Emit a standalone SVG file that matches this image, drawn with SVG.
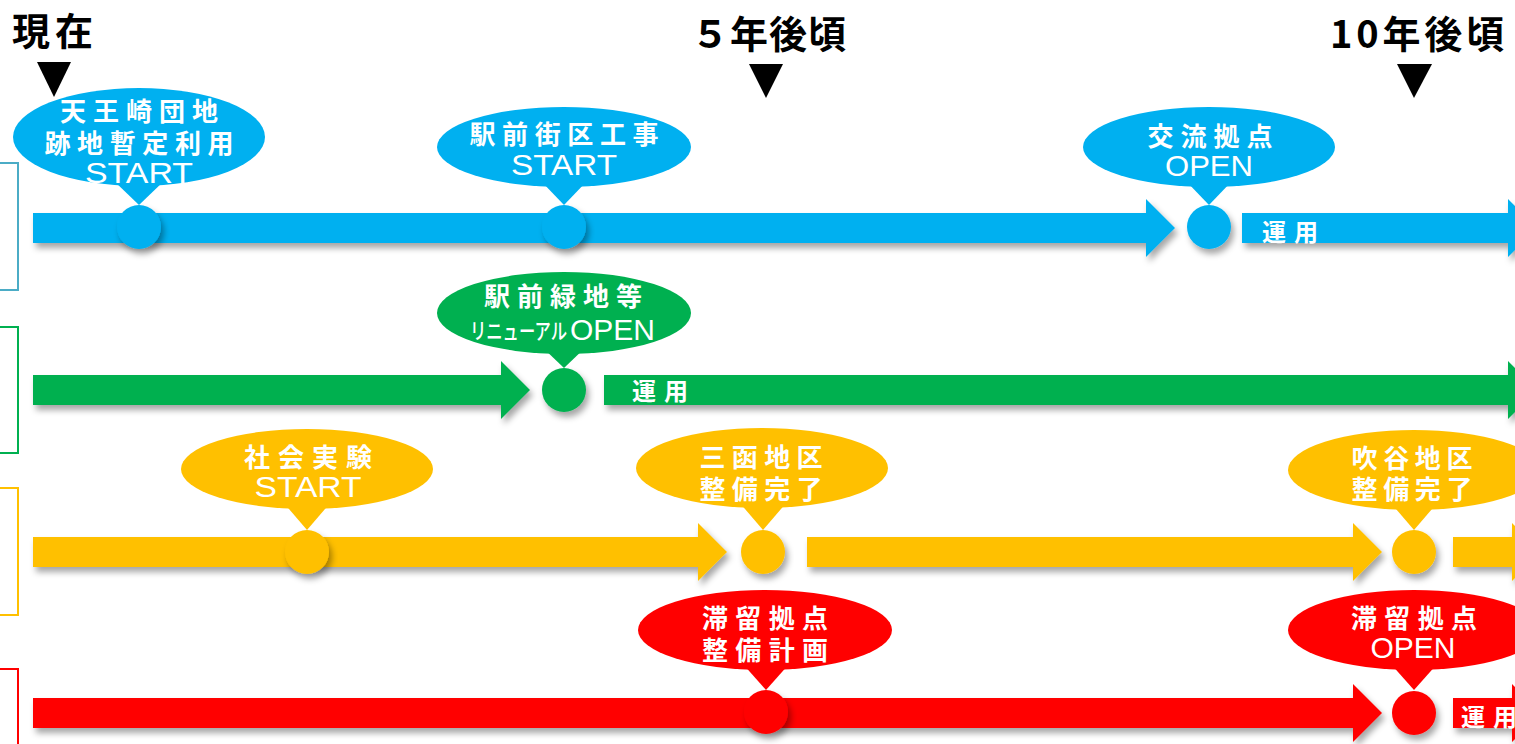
<svg xmlns="http://www.w3.org/2000/svg" width="1515" height="744" viewBox="0 0 1515 744">
<style>
.t{font-family:"Noto Sans CJK JP","Noto Sans",sans-serif;font-weight:700;fill:#000;font-size:38px}
.c{font-family:"Noto Sans CJK JP","Noto Sans",sans-serif;font-weight:700;fill:#fff;font-size:26px;text-anchor:middle}
.k{font-family:"Noto Sans CJK JP","Noto Sans",sans-serif;font-weight:500;fill:#fff;font-size:22px}
.l{font-family:"Liberation Sans",Arial,sans-serif;fill:#fff;font-size:29px;text-anchor:middle}
.lo{font-family:"Liberation Sans",Arial,sans-serif;fill:#fff;font-size:29px}
.u{font-family:"Noto Sans CJK JP","Noto Sans",sans-serif;font-weight:700;fill:#fff;font-size:24px}
.b{fill:#00B0F0}.g{fill:#00B050}.y{fill:#FFC000}.r{fill:#FF0000}
.br{fill:none;stroke-width:2}
</style>
<defs>
<filter id="sh" x="-20%" y="-50%" width="140%" height="220%">
<feDropShadow dx="3" dy="5" stdDeviation="3" flood-color="#000" flood-opacity="0.35"/>
</filter>
</defs>
<rect width="1515" height="744" fill="#fff"/>
<g id="time-labels">
<text class="t" x="12" y="45" textLength="81">現在</text>
<polygon points="37,62 71,62 54,97" fill="#000"/>
<text class="t" x="691" y="48" textLength="155">５年後頃</text>
<polygon points="749,64 783,64 766,98" fill="#000"/>
<text class="t" x="1330" y="48" textLength="174">10年後頃</text>
<polygon points="1397,64 1432,64 1414,98" fill="#000"/>
</g>
<g id="brackets">
<rect class="br" x="-10" y="163" width="28" height="127" stroke="#4BACC6"/>
<rect class="br" x="-10" y="327" width="28" height="126" stroke="#00B050"/>
<rect class="br" x="-10" y="488" width="28" height="127" stroke="#FFC000"/>
<rect class="br" x="-10" y="669" width="28" height="130" stroke="#FF0000"/>
</g>
<g id="connectors" filter="url(#sh)">
<polygon class="b" points="33,213 1146,213 1146,199 1175,228 1146,257 1146,243 33,243"/>
<polygon class="b" points="1242,213 1508,213 1508,199 1537,228 1508,257 1508,243 1242,243"/>
<polygon class="g" points="33,375 501,375 501,361 530,390 501,419 501,405 33,405"/>
<polygon class="g" points="604,375 1508,375 1508,361 1537,390 1508,419 1508,405 604,405"/>
<polygon class="y" points="33,537 698,537 698,523 727,552 698,581 698,567 33,567"/>
<polygon class="y" points="807,537 1353,537 1353,523 1382,552 1353,581 1353,567 807,567"/>
<polygon class="y" points="1453,537 1512,537 1512,523 1541,552 1512,581 1512,567 1453,567"/>
<polygon class="r" points="33,698 1353,698 1353,684 1382,713 1353,742 1353,728 33,728"/>
<polygon class="r" points="1453,698 1512,698 1512,684 1541,713 1512,742 1512,728 1453,728"/>
</g>
<g id="use-labels">
<text class="u" x="1262" y="241" textLength="56">運用</text>
<text class="u" x="632" y="400" textLength="56">運用</text>
<text class="u" x="1461" y="726" textLength="56">運用</text>
</g>
<g id="m-blue-1">
<circle class="b" cx="139" cy="227" r="22" filter="url(#sh)"/>
<ellipse class="b" cx="139" cy="137" rx="126" ry="49"/>
<polygon class="b" points="113,180 165,180 139,205"/>
<text class="c" x="139" y="121" textLength="158">天王崎団地</text>
<text class="c" x="139" y="153" textLength="189">跡地暫定利用</text>
<text class="l" x="139" y="183" textLength="108" lengthAdjust="spacingAndGlyphs">START</text>
</g>
<g id="m-blue-2">
<circle class="b" cx="564" cy="227" r="22" filter="url(#sh)"/>
<ellipse class="b" cx="564" cy="147" rx="127" ry="40"/>
<polygon class="b" points="540,180 588,180 564,205"/>
<text class="c" x="564" y="144" textLength="189">駅前街区工事</text>
<text class="l" x="564" y="175" textLength="106" lengthAdjust="spacingAndGlyphs">START</text>
</g>
<g id="m-blue-3">
<circle class="b" cx="1209" cy="227" r="22" filter="url(#sh)"/>
<ellipse class="b" cx="1209" cy="147" rx="126" ry="40"/>
<polygon class="b" points="1185,180 1233,180 1209,205"/>
<text class="c" x="1210" y="146" textLength="125">交流拠点</text>
<text class="l" x="1209" y="176" textLength="88" lengthAdjust="spacingAndGlyphs">OPEN</text>
</g>
<g id="m-green-1">
<circle class="g" cx="564" cy="390" r="22" filter="url(#sh)"/>
<ellipse class="g" cx="564" cy="313" rx="127" ry="41"/>
<polygon class="g" points="540,345 588,345 564,368"/>
<text class="c" x="563" y="306" textLength="158">駅前緑地等</text>
<text class="k" x="470" y="339" textLength="97" lengthAdjust="spacingAndGlyphs">リニューアル</text>
<text class="lo" x="570" y="340" textLength="85" lengthAdjust="spacingAndGlyphs">OPEN</text>
</g>
<g id="m-yellow-1">
<circle class="y" cx="307" cy="552" r="22" filter="url(#sh)"/>
<ellipse class="y" cx="307" cy="469" rx="126" ry="40"/>
<polygon class="y" points="283,502 331,502 307,530"/>
<text class="c" x="308" y="467" textLength="128">社会実験</text>
<text class="l" x="308" y="497" textLength="107" lengthAdjust="spacingAndGlyphs">START</text>
</g>
<g id="m-yellow-2">
<circle class="y" cx="763" cy="552" r="22" filter="url(#sh)"/>
<ellipse class="y" cx="762" cy="468" rx="126" ry="40"/>
<polygon class="y" points="739,502 787,502 763,530"/>
<text class="c" x="761" y="467" textLength="123">三函地区</text>
<text class="c" x="761" y="499" textLength="123">整備完了</text>
</g>
<g id="m-yellow-3">
<circle class="y" cx="1414" cy="552" r="22" filter="url(#sh)"/>
<ellipse class="y" cx="1414" cy="470" rx="126" ry="40"/>
<polygon class="y" points="1390,502 1438,502 1414,530"/>
<text class="c" x="1412" y="468" textLength="121">吹谷地区</text>
<text class="c" x="1412" y="499" textLength="121">整備完了</text>
</g>
<g id="m-red-1">
<circle class="r" cx="766" cy="712" r="22" filter="url(#sh)"/>
<ellipse class="r" cx="765" cy="630" rx="127" ry="40"/>
<polygon class="r" points="742,663 790,663 766,690"/>
<text class="c" x="765" y="628" textLength="126">滞留拠点</text>
<text class="c" x="765" y="660" textLength="126">整備計画</text>
</g>
<g id="m-red-2">
<circle class="r" cx="1414" cy="713" r="22" filter="url(#sh)"/>
<ellipse class="r" cx="1414" cy="630" rx="126" ry="40"/>
<polygon class="r" points="1390,663 1438,663 1414,690"/>
<text class="c" x="1414" y="628" textLength="126">滞留拠点</text>
<text class="l" x="1413" y="658" textLength="85" lengthAdjust="spacingAndGlyphs">OPEN</text>
</g>
</svg>
